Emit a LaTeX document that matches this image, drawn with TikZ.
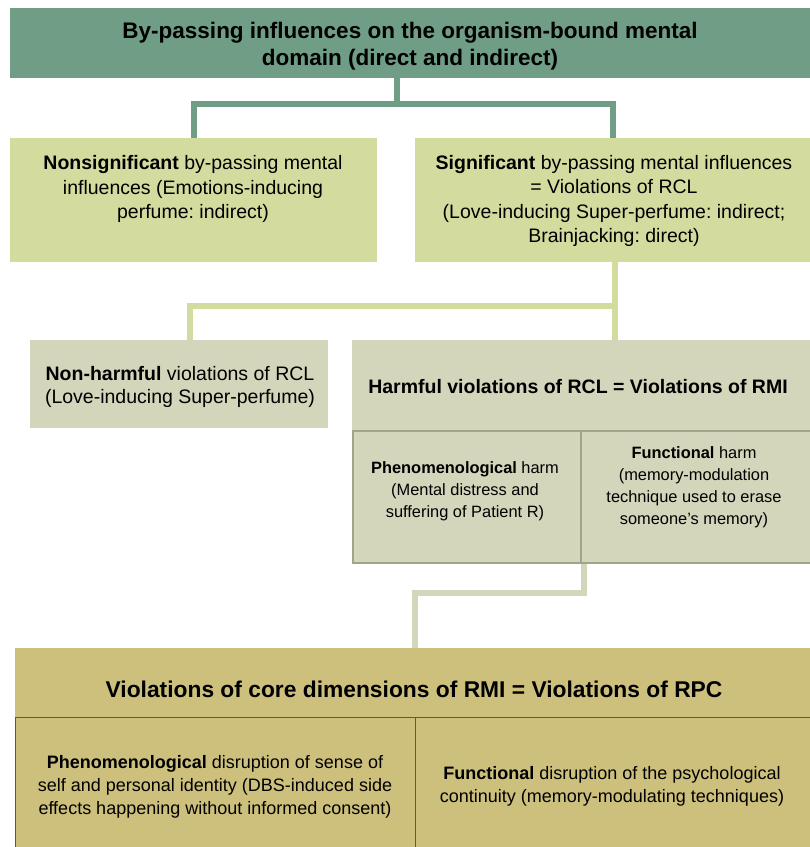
\documentclass[tikz,border=0pt]{standalone}
\usepackage{fontspec}
\setmainfont{Liberation Sans}
\usetikzlibrary{positioning}
\definecolor{topgreen}{RGB}{111,157,134}
\definecolor{leafgreen}{RGB}{212,219,158}
\definecolor{sagegrey}{RGB}{211,214,186}
\definecolor{cellline}{RGB}{160,165,138}
\definecolor{ochre}{RGB}{205,192,124}
\definecolor{ochreline}{RGB}{92,90,66}
\frenchspacing

\begin{document}
\begin{tikzpicture}[x=1pt, y=-1pt,
  box/.style={fill=#1, inner sep=0pt, anchor=north west},
  txt/.style={align=center, inner sep=0pt},
  link/.style={draw=#1, line width=6pt},
  cell/.style={draw=cellline, line width=1.5pt, fill=sagegrey, inner sep=0pt, anchor=north west},
  corecell/.style={draw=ochreline, line width=1.2pt, fill=ochre, inner sep=0pt, anchor=north west}]
\useasboundingbox (0,0) rectangle (810,847);
% top level
\node[box=topgreen, minimum width=800, minimum height=70] (top) at (10,8) {};
\node[txt, font=\fontsize{22.5}{27}\selectfont\bfseries] (toptxt) at (410,46) {By-passing influences on the organism-bound mental\\domain (direct and indirect)};
% second level
\node[box=leafgreen, minimum width=367, minimum height=124] (ns) at (10,138) {};
\node[txt, font=\fontsize{19.5}{24.5}\selectfont] (nstxt) at (193,189) {\textbf{Nonsignificant} by-passing mental\\influences (Emotions-inducing\\perfume: indirect)};
\node[box=leafgreen, minimum width=395, minimum height=124] (sig) at (415,138) {};
\node[txt, font=\fontsize{19.5}{24.5}\selectfont] (sigtxt) at (614,201) {\textbf{Significant} by-passing mental influences\\= Violations of RCL\\(Love-inducing Super-perfume: indirect;\\Brainjacking: direct)};
% third level
\node[box=sagegrey, minimum width=298, minimum height=88] (nh) at (30,340) {};
\node[txt, font=\fontsize{19.5}{23.5}\selectfont] (nhtxt) at (180,387) {\textbf{Non-harmful} violations of RCL\\(Love-inducing Super-perfume)};
\node[box=sagegrey, minimum width=458, minimum height=222] (harm) at (352,340) {};
\node[txt, font=\fontsize{19.5}{24}\selectfont\bfseries] (harmtxt) at (578,387) {Harmful violations of RCL = Violations of RMI};
\node[cell, minimum width=228, minimum height=132] (phen) at (352,430) {};
\node[cell, minimum width=230, minimum height=132] (func) at (580,430) {};
\node[txt, font=\fontsize{16.4}{22}\selectfont] (phentxt) at (465,491) {\textbf{Phenomenological} harm\\(Mental distress and\\suffering of Patient R)};
\node[txt, font=\fontsize{16.4}{22}\selectfont] (functxt) at (694,487) {\textbf{Functional} harm\\(memory-modulation\\technique used to erase\\someone's memory)};
% bottom level
\node[box=ochre, minimum width=795, minimum height=199] (core) at (15,648) {};
\node[txt, font=\fontsize{22.8}{26}\selectfont\bfseries] (coretxt) at (414,689) {Violations of core dimensions of RMI = Violations of RPC};
\node[corecell, minimum width=400, minimum height=140] (cphen) at (15,717) {};
\node[corecell, minimum width=395, minimum height=140] (cfunc) at (415,717) {};
\node[txt, font=\fontsize{18}{23}\selectfont] (cphentxt) at (215,787) {\textbf{Phenomenological} disruption of sense of\\self and personal identity (DBS-induced side\\effects happening without informed consent)};
\node[txt, font=\fontsize{18}{23}\selectfont] (cfunctxt) at (612,786) {\textbf{Functional} disruption of the psychological\\continuity (memory-modulating techniques)};
% connectors
\coordinate (tj) at (397,104);
\draw[link=topgreen] (top.south -| tj) -- (tj);
\draw[link=topgreen] (ns.north) |- (tj) -| (sig.north);
\coordinate (sj) at (615,306);
\draw[link=leafgreen] (sig.south -| sj) -- (harm.north -| sj);
\draw[link=leafgreen] (sj) -| ([xshift=11pt]nh.north);
\draw[link=sagegrey] ([xshift=2pt]phen.south east) -- ++(0,29) -| (core.north -| cfunc.north west);
\end{tikzpicture}
\end{document}
